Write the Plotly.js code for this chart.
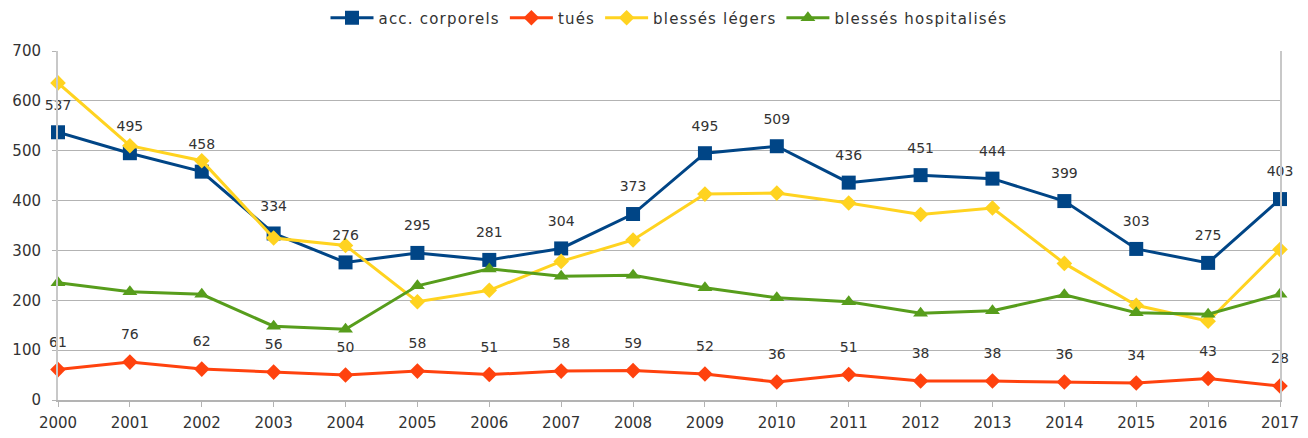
<!DOCTYPE html>
<html>
<head>
<meta charset="utf-8">
<script src="https://cdn.plot.ly/plotly-3.0.1.min.js"></script>
<style>
html,body{margin:0;padding:0;background:#fff;}
#chart{width:1308px;height:438px;}
.legendtext{letter-spacing:1.2px;}
</style>
</head>
<body>
<div id="chart"></div>
<script>
const years = [2000,2001,2002,2003,2004,2005,2006,2007,2008,2009,2010,2011,2012,2013,2014,2015,2016,2017];
const accCorporels = [537,495,458,334,276,295,281,304,373,495,509,436,451,444,399,303,275,403];
const tues = [61,76,62,56,50,58,51,58,59,52,36,51,38,38,36,34,43,28];
const blessesLegers = [636,510,480,325,310,197,220,278,321,413,415,395,372,385,274,190,158,302];
const blessesHospitalises = [235,217,212,148,142,229,263,248,250,225,205,197,174,179,211,175,172,212];
const yTicks = [0,100,200,300,400,500,600,700];

const FAM = 'DejaVu Sans, Liberation Sans, sans-serif';
const TXT = '#333333';

function labelTrace(ys) {
  return {x: years, y: ys, mode: 'markers+text', text: ys.map(String), textposition: 'top center',
    textfont: {family: FAM, size: 14, color: TXT},
    marker: {size: 29, color: 'rgba(0,0,0,0)'}, showlegend: false, hoverinfo: 'skip', cliponaxis: false};
}

const traces = [
  {x: years, y: accCorporels, name: 'acc. corporels', mode: 'lines+markers',
   line: {color: '#004586', width: 3}, marker: {symbol: 'square', size: 14, color: '#004586'}, cliponaxis: false},
  {x: years, y: tues, name: 'tués', mode: 'lines+markers',
   line: {color: '#ff420e', width: 3}, marker: {symbol: 'diamond', size: 12, color: '#ff420e'}, cliponaxis: false},
  {x: years, y: blessesLegers, name: 'blessés légers', mode: 'lines+markers',
   line: {color: '#ffd320', width: 3}, marker: {symbol: 'diamond', size: 12, color: '#ffd320'}, cliponaxis: false},
  {x: years, y: blessesHospitalises, name: 'blessés hospitalisés', mode: 'lines+markers',
   line: {color: '#579d1c', width: 3}, marker: {symbol: 'triangle-up', size: 13, color: '#579d1c'}, cliponaxis: false},
  labelTrace(accCorporels),
  labelTrace(tues)
];

const layout = {
  width: 1308, height: 438,
  margin: {l: 58, r: 28, t: 51, b: 38},
  paper_bgcolor: '#fff', plot_bgcolor: '#fff',
  font: {family: FAM, size: 14, color: TXT},
  showlegend: true,
  legend: {orientation: 'h', x: 0.5, xanchor: 'center', xref: 'paper', y: 0.959, yanchor: 'middle', yref: 'container',
           font: {family: FAM, size: 15, color: TXT}, itemwidth: 43},
  xaxis: {range: [2000, 2017], tickvals: years, ticktext: years.map(String),
          showgrid: false, zeroline: false, showline: true, linecolor: '#b3b3b3', linewidth: 2,
          ticks: 'outside', ticklen: 5, tickcolor: '#b3b3b3', ticklabelstandoff: 3,
          tickfont: {family: FAM, size: 15, color: TXT}},
  yaxis: {range: [0, 700], tickvals: yTicks, showgrid: true, gridcolor: '#b3b3b3', gridwidth: 1,
          zeroline: false, showline: true, mirror: true, linecolor: '#c8c8c8', linewidth: 2, ticks: 'outside', ticklen: 4,
          tickcolor: '#b3b3b3', ticklabelstandoff: 8, tickfont: {family: FAM, size: 15, color: TXT}}
};

Plotly.newPlot('chart', traces, layout, {staticPlot: true});
</script>
</body>
</html>
